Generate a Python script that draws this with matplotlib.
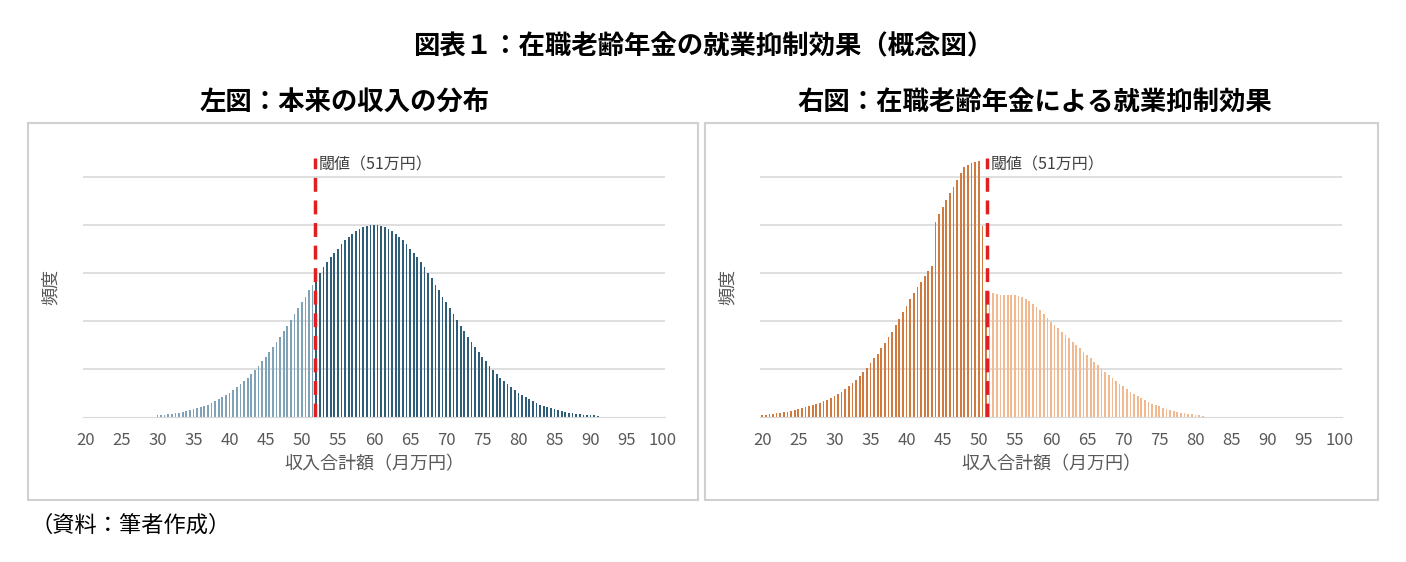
import numpy as np
import matplotlib
matplotlib.use("Agg")
import matplotlib.pyplot as plt
from matplotlib.patches import Rectangle

plt.rcParams["font.family"] = "Noto Sans CJK JP"

# left: original income distribution, 0.5 steps from 30 to 91
left_start = 30
left_vals = [0.04, 0.045, 0.05, 0.06, 0.07, 0.08, 0.09, 0.11, 0.12, 0.14, 0.16, 0.18, 0.21, 0.23, 0.26,
             0.29, 0.33, 0.37, 0.41, 0.46, 0.51, 0.56, 0.62, 0.69, 0.75, 0.82, 0.90, 0.98, 1.07, 1.16,
             1.25, 1.35, 1.46, 1.56, 1.67, 1.79, 1.90, 2.02, 2.14, 2.27, 2.39, 2.51, 2.64, 2.76, 2.90,
             3.01, 3.12, 3.22, 3.33, 3.42, 3.51, 3.60, 3.68, 3.75, 3.82, 3.87, 3.92, 3.95, 3.98, 4.00,
             4.00,
             4.00, 3.98, 3.95, 3.92, 3.87, 3.82, 3.75, 3.68, 3.60, 3.51, 3.42, 3.33, 3.22, 3.12, 3.01,
             2.90, 2.76, 2.64, 2.51, 2.39, 2.27, 2.14, 2.02, 1.90, 1.79, 1.67, 1.56, 1.46, 1.35, 1.25,
             1.16, 1.07, 0.98, 0.90, 0.82, 0.75, 0.69, 0.62, 0.56, 0.51, 0.46, 0.41, 0.37, 0.33, 0.29,
             0.26, 0.23, 0.21, 0.18, 0.16, 0.14, 0.12, 0.11, 0.09, 0.08, 0.07, 0.06, 0.05, 0.045, 0.04,
             0.035, 0.03]

# right: with the earnings test, 0.5 steps from 20 to 81
right_start = 20
right_vals = [0.04, 0.05, 0.06, 0.07, 0.08, 0.09, 0.10, 0.11, 0.12, 0.14, 0.16, 0.18, 0.20, 0.22, 0.24,
              0.27, 0.30, 0.33, 0.36, 0.39, 0.43,
              0.48, 0.53, 0.58, 0.64, 0.71, 0.78, 0.86, 0.94, 1.03, 1.12,
              1.22, 1.32, 1.43, 1.54, 1.66, 1.78, 1.91, 2.04, 2.18, 2.32,
              2.45, 2.58, 2.70, 2.82, 2.93, 3.04, 3.15,
              4.06, 4.22, 4.37, 4.52, 4.67, 4.80, 4.94, 5.08, 5.20, 5.26, 5.30, 5.32, 5.33, 3.98,
              2.62,
              2.60, 2.58, 2.56, 2.55, 2.54, 2.54, 2.54, 2.54, 2.53, 2.50, 2.46, 2.42,
              2.36, 2.30, 2.22, 2.14, 2.06, 1.98,
              1.92, 1.85, 1.78, 1.71, 1.64, 1.57, 1.50, 1.43, 1.36, 1.30,
              1.22, 1.15, 1.08, 1.01, 0.94, 0.88, 0.81, 0.75, 0.69, 0.64,
              0.58, 0.53, 0.48, 0.43, 0.39, 0.35, 0.31, 0.28, 0.25, 0.22,
              0.19, 0.17, 0.15, 0.13, 0.11, 0.09, 0.08, 0.07, 0.06, 0.05, 0.04, 0.03]

xticks = list(range(20, 101, 5))
threshold_label = "閾値（51万円）"

W, H = 1406, 562
fig = plt.figure(figsize=(W / 100, H / 100), dpi=100)

fig.text(0.5, 1 - 47 / H, "図表１：在職老齢年金の就業抑制効果（概念図）", ha="center", va="center",
         fontsize=19, fontweight="bold")
fig.text(345 / W, 1 - 103 / H, "左図：本来の収入の分布", ha="center", va="center", fontsize=19, fontweight="bold")
fig.text(1035 / W, 1 - 103 / H, "右図：在職老齢年金による就業抑制効果", ha="center", va="center",
         fontsize=19, fontweight="bold")
fig.text(30 / W, 1 - 525 / H, "（資料：筆者作成）", ha="left", va="center", fontsize=16)

for x0, x1 in [(28, 698), (705, 1378)]:
    fig.patches.append(Rectangle((x0 / W, 1 - 500 / H), (x1 - x0) / W, 377 / H, transform=fig.transFigure,
                                 fill=False, edgecolor="#d0d0d0", linewidth=1.5))


def panel(left_px, vals, start, thr, col_lo, col_hi):
    ax = fig.add_axes([left_px / W, 1 - 417 / H, 582 / W, 5.4 * 48 / H])
    x = start + 0.5 * np.arange(len(vals))
    colors = [col_lo if xi < thr else col_hi for xi in x]
    ax.bar(x, vals, width=0.24, color=colors, zorder=2)
    ax.axvline(thr, color="#e02020", linestyle=(0, (4, 2.5)), linewidth=2.5, zorder=3)
    ax.text(thr + 0.5, 5.25, threshold_label, fontsize=11.5, color="#404040", va="center")
    ax.set_xlim(19.7, 100.3)
    ax.set_ylim(0, 5.4)
    ax.set_xticks(xticks)
    ax.set_xticklabels([str(t) for t in xticks], fontsize=12, color="#595959")
    ax.set_yticks([1, 2, 3, 4, 5])
    ax.set_yticklabels([])
    ax.yaxis.grid(True, color="#d9d9d9", linewidth=1.2, zorder=0)
    ax.tick_params(length=0, pad=11)
    for s in ["top", "right", "left"]:
        ax.spines[s].set_visible(False)
    ax.spines["bottom"].set_color("#d9d9d9")
    ax.set_xlabel("収入合計額（月万円）", fontsize=13, color="#595959", labelpad=4)
    ax.set_ylabel("頻度", fontsize=13, color="#595959", labelpad=6)
    return ax


panel(83, left_vals, left_start, 51.8, "#7fa2b6", "#2e5e78")
panel(760, right_vals, right_start, 51.1, "#d07a40", "#f0b98f")

fig.savefig("out.png", dpi=100)
